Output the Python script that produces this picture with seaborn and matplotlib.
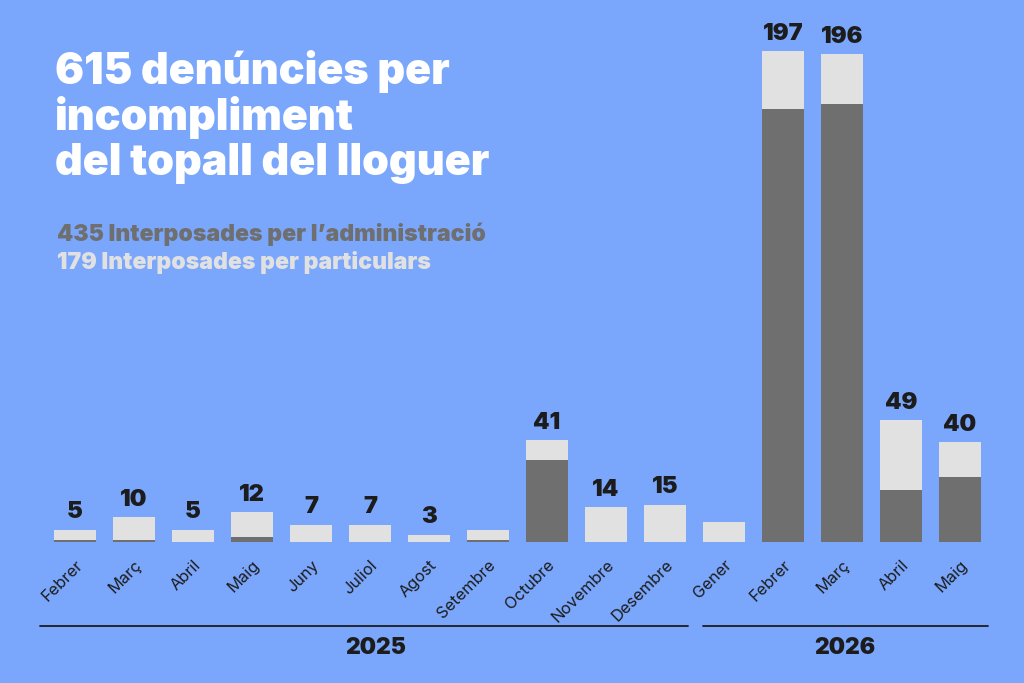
import matplotlib
matplotlib.use("Agg")
import matplotlib.pyplot as plt
import matplotlib.transforms as mtransforms
import seaborn as sns
import pandas as pd

# data
months = ["Febrer", "Març", "Abril", "Maig", "Juny", "Juliol", "Agost", "Setembre",
          "Octubre", "Novembre", "Desembre", "Gener", "Febrer", "Març", "Abril", "Maig"]
years = [2025] * 11 + [2026] * 5
admin = [1, 1, 0, 2, 0, 0, 0, 1, 33, 0, 0, 0, 174, 176, 21, 26]
particulars = [4, 9, 5, 10, 7, 7, 3, 4, 8, 14, 15, 8, 23, 20, 28, 14]
shown_totals = [5, 10, 5, 12, 7, 7, 3, None, 41, 14, 15, None, 197, 196, 49, 40]

BG = "#7aa7fc"
DARK = "#6f6f6f"
LIGHT = "#e1e1e1"
INK = "#1c1c1c"

df = pd.DataFrame({
    "key": [f"{m} {y}" for m, y in zip(months, years)],
    "month": months,
    "admin": admin,
    "particulars": particulars,
})
df["total"] = df["admin"] + df["particulars"]

sns.set_theme(style="white")
plt.rcParams["font.family"] = ["Inter", "DejaVu Sans"]

fig = plt.figure(figsize=(10.24, 6.83), dpi=100)
fig.patch.set_facecolor(BG)
ax = fig.add_axes([45.5 / 1024, 141 / 683, 944 / 1024, 498 / 683])
ax.set_facecolor(BG)

order = list(df["key"])
sns.barplot(data=df, x="key", y="total", order=order, color=LIGHT,
            width=0.71, saturation=1, linewidth=0, ax=ax)
sns.barplot(data=df, x="key", y="admin", order=order, color=DARK,
            width=0.71, saturation=1, linewidth=0, ax=ax)

ax.set_xlim(-0.5, len(order) - 0.5)
ax.set_ylim(0, 200)
for s in ax.spines.values():
    s.set_visible(False)
ax.set_yticks([])
ax.set_xlabel("")
ax.set_ylabel("")
ax.set_xticks(range(len(order)))
ax.set_xticklabels(months, rotation=45, ha="right", rotation_mode="anchor",
                   fontsize=11.8, color=INK)
ax.tick_params(axis="x", length=0, pad=11)

for i, (t, lab) in enumerate(zip(df["total"], shown_totals)):
    if lab is not None:
        ax.text(i, t + 2.5, str(lab), ha="center", va="bottom",
                fontsize=17, fontweight="black", color=INK)

# year brackets under the month labels
tr = mtransforms.blended_transform_factory(ax.transData, ax.transAxes)
for x0, x1, lab in [(-0.59, 10.39, "2025"), (10.64, 15.47, "2026")]:
    ax.plot([x0, x1], [-0.169, -0.169], color=INK, lw=1.3,
            transform=tr, clip_on=False)
    ax.text((x0 + x1) / 2 + (0.2 if lab == "2025" else 0), -0.212, lab,
            transform=tr, ha="center", va="center",
            fontsize=16.5, fontweight="black", color=INK)

# title and legend text
fig.text(55 / 1024, 1 - 50 / 683,
         "615 denúncies per\nincompliment\ndel topall del lloguer",
         ha="left", va="top", fontsize=31, fontweight="black", color="white",
         linespacing=1.1)
fig.text(57 / 1024, 1 - 234 / 683, "435 Interposades per l’administració",
         ha="left", va="center", fontsize=16.6, fontweight="black", color=DARK)
fig.text(57 / 1024, 1 - 263 / 683, "179 Interposades per particulars",
         ha="left", va="center", fontsize=16.6, fontweight="black", color=LIGHT)

fig.savefig("out.png", dpi=100, facecolor=BG)
